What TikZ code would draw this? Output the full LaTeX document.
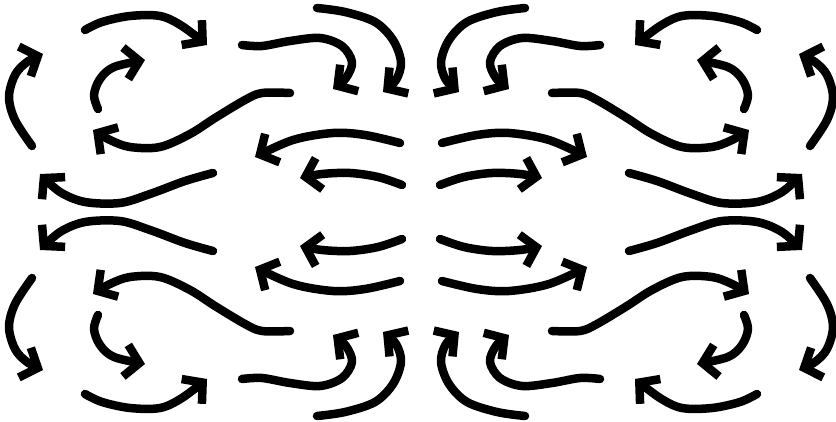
\documentclass[tikz,border=0pt]{standalone}
\usetikzlibrary{arrows.meta}
\tikzset{
  %
  wind/.style={draw=black, line width=8.5pt, line cap=round, line join=round,
               -{Straight Barb[length=14pt, width=32pt]}},
  gust/.style={smooth, tension=0.55},
}
\begin{document}
\begin{tikzpicture}[x=1pt, y=-1pt]
\useasboundingbox (0,0) rectangle (836,422);

% ---------------------------------------------------- four mirrored quarters
\foreach \sx/\sy in {1/1, -1/1, 1/-1, -1/-1} {
\begin{scope}[shift={(421,212)}, xscale=\sx, yscale=\sy, shift={(-421,-212)}]
  % outer ring
  \draw[wind] plot[gust] coordinates {(85,30) (102,22) (130,16) (160,16) (182,26) (207,45)};
  \draw[wind] plot[gust] coordinates {(32,146) (15,120) (9,97) (15,75) (27,62) (43,54)};
  \draw[wind] plot[gust] coordinates {(213,173) (185,181) (150,194) (120,203) (85,202) (60,192) (40,174)};
  % inner curl
  \draw[wind] plot[gust] coordinates {(98,109) (94,95) (100,79) (114,67) (145,60)};
  % long s-curve
  \draw[wind] plot[gust] coordinates {(290,93) (262,93) (245,100) (215,118) (190,134) (160,147) (130,147) (110,140) (93,130)};
  % hooks near the middle
  \draw[wind] plot[gust] coordinates {(242,45) (262,46) (290,41) (320,38) (342,46) (352,62) (346,78) (333,89)};
  \draw[wind] plot[gust] coordinates {(317,8) (345,12) (375,22) (393,40) (401,62) (396,80) (383,92)};
  % flat ones
  \draw[wind] plot[gust] coordinates {(400,143) (365,135) (333,133) (293,140) (255,157)};
  \draw[wind] plot[gust] coordinates {(402,185) (378,177) (350,173) (322,174) (300,178)};
\end{scope}
}

\end{tikzpicture}
\end{document}
